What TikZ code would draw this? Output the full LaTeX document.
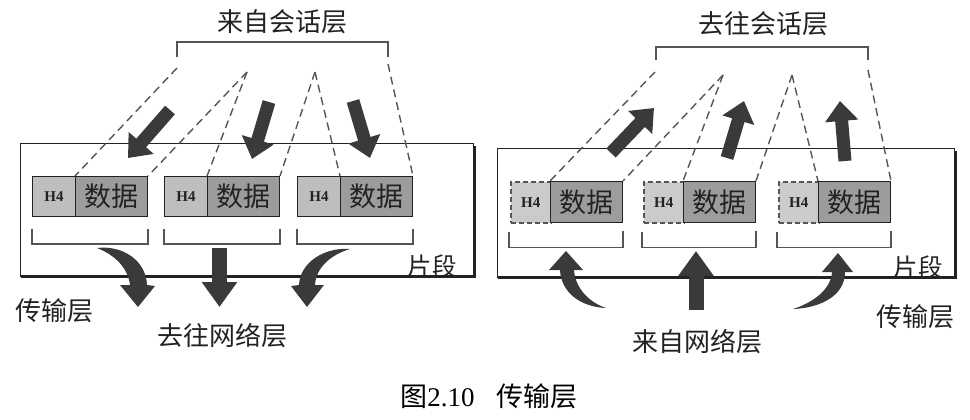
\documentclass[tikz,border=0pt]{standalone}
\usepackage{fontspec}
\setmainfont{Liberation Serif}
\newfontfamily\cjk{Noto Sans CJK SC}
\usetikzlibrary{arrows.meta}
\definecolor{ink}{HTML}{222222}
\definecolor{arrc}{HTML}{3A3A3A}
\definecolor{hfill}{HTML}{BEBEBE}
\definecolor{dfill}{HTML}{9C9C9C}
\definecolor{lnc}{HTML}{555555}
\tikzset{
  hpart/.style={draw=ink, line width=1pt, fill=hfill, minimum width=43pt, minimum height=40pt, inner sep=0pt, anchor=north west, text=ink, font=\bfseries\fontsize{15}{15}\selectfont},
  hpartd/.style={hpart, fill=hfill!80, draw=lnc, line width=1.6pt, dash pattern=on 5pt off 3pt, minimum width=40pt, minimum height=41pt},
  dpart/.style={draw=ink, line width=1pt, fill=dfill, minimum width=72pt, minimum height=40pt, inner sep=0pt, anchor=north west, text=ink, font=\cjk\fontsize{27}{27}\selectfont},
  dpartr/.style={dpart, minimum height=41pt},
  lbl/.style={text=ink, inner sep=0pt, font=\cjk\fontsize{26}{26}\selectfont},
  lbls/.style={lbl, font=\cjk\fontsize{24.5}{24.5}\selectfont},
  brk/.style={draw=lnc, line width=1.2pt},
  dsh/.style={draw=lnc, line width=1.4pt, dash pattern=on 8pt off 5pt},
  bigarr/.style={draw=arrc, line width=13pt, -{Triangle[length=20pt,width=32pt]}},
  starr/.style={draw=arrc, line width=15pt, -{Triangle[length=25pt,width=34pt]}},
  swoosh/.style={fill=arrc},
  outer/.style={draw=ink, line width=1pt},
  shadow/.style={draw=ink, line width=3pt}
}
\begin{document}
\begin{tikzpicture}[x=1pt,y=-1pt]
\useasboundingbox (0,0) rectangle (970,420);
% ---------------- LEFT PANEL ----------------
\draw[outer] (20,143) rectangle (473,276);
\draw[shadow] (21,276.5) -| (474,146);
% segments
\node[hpart] (L1h) at (32,176) {H4};
\node[dpart] (L1d) at (75,176) {数据};
\node[hpart] (L2h) at (164,176) {H4};
\node[dpart] (L2d) at (207,176) {数据};
\node[hpart] (L3h) at (297,176) {H4};
\node[dpart] (L3d) at (340,176) {数据};
% brackets below
\draw[brk] ([yshift=-12pt]L1h.south west) -- ++(0,15) -| ([yshift=-12pt]L1d.south east);
\draw[brk] ([yshift=-12pt]L2h.south west) -- ++(0,15) -| ([yshift=-12pt]L2d.south east);
\draw[brk] ([yshift=-12pt]L3h.south west) -- ++(0,15) -| ([yshift=-12pt]L3d.south east);
% top bracket
\node[lbl] (Ltop) at (282,22) {来自会话层};
\coordinate (LbA) at (177,57);
\coordinate (LbB) at (388,57);
\draw[brk] (LbA) -- (177,42) -- (388,42) -- (LbB);
\coordinate (LdA) at (177,68);
\coordinate (Lp1) at (247,72);
\coordinate (Lp2) at (315,72);
\coordinate (LdB) at (388,64);
\draw[dsh] (LdA) -- (L1d.north west);
\draw[dsh] (Lp1) -- (L1d.north east);
\draw[dsh] (Lp1) -- (L2d.north west);
\draw[dsh] (Lp2) -- (L2d.north east);
\draw[dsh] (Lp2) -- (L3d.north west);
\draw[dsh] (LdB) -- (L3d.north east);
% top arrows
\draw[bigarr] (170,110) -- (128,158);
\draw[bigarr] (269,102) -- (252,159);
\draw[bigarr] (353,101) -- (370,158);
% bottom arrows
\fill[swoosh] (97,248) .. controls (122,245) and (146,260) .. (147,285) -- (155,286) -- (138,307) -- (120,285) -- (130,285) .. controls (128,268) and (115,255) .. (97,248) -- cycle;
\draw[starr] (219.5,248) -- (219.5,307);
\fill[swoosh] (350,249) .. controls (325,247) and (300,262) .. (299,285) -- (291,286) -- (307,307) -- (324,285) -- (315,285) .. controls (316,268) and (330,255) .. (350,249) -- cycle;
% labels
\node[lbls] (Lseg) at (432,266) {片段};
\node[lbl] (Ltl) at (55,311) {传输层};
\node[lbl] (Lnet) at (222,336) {去往网络层};
% ---------------- RIGHT PANEL ----------------
\draw[outer] (497,148) rectangle (954,277);
\draw[shadow] (498,277.5) -| (955,151);
\node[hpartd] (R1h) at (510,181) {H4};
\node[dpartr] (R1d) at (550,181) {数据};
\node[hpartd] (R2h) at (643,181) {H4};
\node[dpartr] (R2d) at (683,181) {数据};
\node[hpartd] (R3h) at (778,181) {H4};
\node[dpartr] (R3d) at (818,181) {数据};
\draw[brk] ([xshift=-1pt,yshift=-8pt]R1h.south west) -- ++(0,16) -| ([yshift=-8pt]R1d.south east);
\draw[brk] ([xshift=-1pt,yshift=-8pt]R2h.south west) -- ++(0,16) -| ([yshift=-8pt]R2d.south east);
\draw[brk] ([xshift=-1pt,yshift=-8pt]R3h.south west) -- ++(0,16) -| ([yshift=-8pt]R3d.south east);
\node[lbl] (Rtop) at (763,24) {去往会话层};
\coordinate (RbA) at (656,60);
\coordinate (RbB) at (868,60);
\draw[brk] (RbA) -- (656,47) -- (868,47) -- (RbB);
\coordinate (RdA) at (655,72);
\coordinate (Rp1) at (723,75);
\coordinate (Rp2) at (792,75);
\coordinate (RdB) at (868,70);
\draw[dsh] (RdA) -- (R1d.north west);
\draw[dsh] (Rp1) -- (R1d.north east);
\draw[dsh] (Rp1) -- (R2d.north west);
\draw[dsh] (Rp2) -- (R2d.north east);
\draw[dsh] (Rp2) -- (R3d.north west);
\draw[dsh] (RdB) -- (R3d.north east);
\draw[bigarr] (611,153) -- (654,108);
\draw[bigarr] (727,158) -- (744,101);
\draw[bigarr] (845,161) -- (840,101);
\fill[swoosh] (606,308) .. controls (580,307) and (561,292) .. (560,270) -- (549,270) -- (566,251) -- (583,270) -- (574,270) .. controls (575,287) and (588,302) .. (606,308) -- cycle;
\draw[starr] (696,310) -- (696,251);
\fill[swoosh] (793,309) .. controls (820,308) and (845,296) .. (845,272) -- (853,272) -- (838,253) -- (822,272) -- (832,272) .. controls (831,290) and (812,303) .. (793,309) -- cycle;
\node[lbls] (Rseg) at (918,267) {片段};
\node[lbl] (Rtl) at (915,317) {传输层};
\node[lbl] (Rnet) at (697,342) {来自网络层};
% caption
\node[text=black, inner sep=0pt, font=\fontsize{27}{27}\selectfont] (cap) at (489,396) {{\cjk 图}2.10\hspace{22pt}{\cjk 传输层}};
\end{tikzpicture}
\end{document}
